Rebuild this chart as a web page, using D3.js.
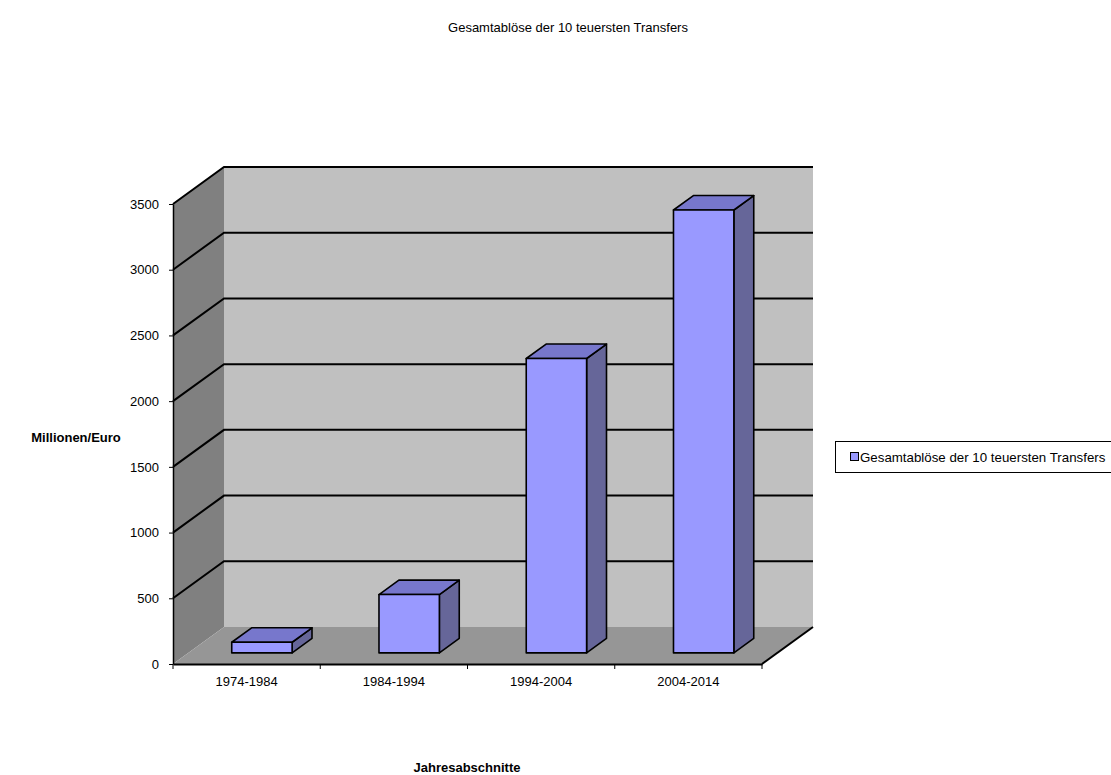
<!DOCTYPE html>
<html>
<head>
<meta charset="utf-8">
<script src="https://cdn.jsdelivr.net/npm/d3@7"></script>
<style>
  html, body { margin: 0; padding: 0; background: #fff; }
  svg { display: block; font-family: "Liberation Sans", Arial, sans-serif; }
</style>
</head>
<body>
<svg id="chart" width="1111" height="775"></svg>
<script>
// Data
const categories = ["1974-1984", "1984-1994", "1994-2004", "2004-2014"];
const values = [81, 444, 2240, 3370];
const yTicks = [0, 500, 1000, 1500, 2000, 2500, 3000, 3500];
const seriesName = "Gesamtablöse der 10 teuersten Transfers";
const chartTitle = "Gesamtablöse der 10 teuersten Transfers";
const xTitle = "Jahresabschnitte";
const yTitle = "Millionen/Euro";

const FONT = "Liberation Sans, Arial, sans-serif";
const FS = 13;

const svg = d3.select("#chart");

// Plot geometry (front plane + oblique depth)
const x0 = 173, x1 = 762, yBottom = 664, yTop = 204;
const DX = 51, DY = 37;           // depth offset of the back wall
const depthStart = 0.3, depthLen = 0.39;  // bar position in depth
const barFrac = 0.41;

const x = d3.scaleBand().domain(categories).range([x0, x1]).padding(0);
const y = d3.scaleLinear().domain([0, 3500]).range([yBottom, yTop]);

const pts = a => a.map(p => p.join(",")).join(" ");

// Walls and floor
svg.append("polygon")
  .attr("points", pts([[x0, yBottom], [x0, yTop], [x0 + DX, yTop - DY], [x0 + DX, yBottom - DY]]))
  .attr("fill", "#808080");
svg.append("rect")
  .attr("x", x0 + DX).attr("y", yTop - DY)
  .attr("width", x1 - x0).attr("height", yBottom - yTop)
  .attr("fill", "#c0c0c0");
svg.append("polygon")
  .attr("points", pts([[x0, yBottom], [x1, yBottom], [x1 + DX, yBottom - DY], [x0 + DX, yBottom - DY]]))
  .attr("fill", "#969696");

// Gridlines on back and side walls
const grid = svg.append("g").attr("stroke", "#000").attr("stroke-width", 2).attr("fill", "none");
yTicks.filter(v => v > 0).forEach(v => {
  const yy = y(v);
  grid.append("polyline")
    .attr("points", pts([[x0, yy], [x0 + DX, yy - DY], [x1 + DX, yy - DY]]));
});

// Floor edge on the right
svg.append("line")
  .attr("x1", x1).attr("y1", yBottom).attr("x2", x1 + DX).attr("y2", yBottom - DY)
  .attr("stroke", "#000").attr("stroke-width", 2);

// Bars (front, top, side faces)
const bars = svg.append("g").attr("stroke", "#000").attr("stroke-width", 1.6).attr("stroke-linejoin", "round");
const offX = depthStart * DX, offY = depthStart * DY;
const dX = depthLen * DX, dY = depthLen * DY;
categories.forEach((c, i) => {
  const bw = x.bandwidth() * barFrac;
  const left = x(c) + (x.bandwidth() - bw) / 2 + offX;
  const right = left + bw;
  const base = yBottom - offY;
  const top = y(values[i]) - offY;
  bars.append("polygon")
    .attr("points", pts([[right, base], [right, top], [right + dX, top - dY], [right + dX, base - dY]]))
    .attr("fill", "#666699");
  bars.append("polygon")
    .attr("points", pts([[left, top], [right, top], [right + dX, top - dY], [left + dX, top - dY]]))
    .attr("fill", "#7777cc");
  bars.append("rect")
    .attr("x", left).attr("y", top)
    .attr("width", bw).attr("height", base - top)
    .attr("fill", "#9999ff");
});

// Y axis
const yAxis = svg.append("g")
  .attr("transform", `translate(${x0},0)`)
  .call(d3.axisLeft(y).tickValues(yTicks).tickFormat(d3.format("d"))
    .tickSize(4).tickSizeOuter(0).tickPadding(10));
yAxis.select(".domain").attr("stroke", "#000").attr("stroke-width", 1.5);
yAxis.selectAll("text").attr("font-size", FS).attr("fill", "#000").attr("font-family", FONT);

// X axis: labels centred, ticks on category boundaries
const xAxis = svg.append("g")
  .attr("transform", `translate(0,${yBottom})`)
  .call(d3.axisBottom(x).tickSize(0).tickPadding(13));
xAxis.select(".domain").attr("stroke", "#000").attr("stroke-width", 2);
xAxis.selectAll("text").attr("font-size", FS).attr("fill", "#000").attr("font-family", FONT);
const bounds = categories.map(c => x(c)).concat([x1]);
xAxis.selectAll(".bound").data(bounds).enter().append("line")
  .attr("class", "bound")
  .attr("x1", d => d).attr("x2", d => d).attr("y1", 0).attr("y2", 5)
  .attr("stroke", "#000").attr("stroke-width", 1);

// Titles
svg.append("text").attr("x", 568).attr("y", 32).attr("text-anchor", "middle")
  .attr("font-size", FS).text(chartTitle);
svg.append("text").attr("x", 76).attr("y", 442).attr("text-anchor", "middle")
  .attr("font-size", FS).attr("font-weight", "bold").text(yTitle);
svg.append("text").attr("x", 467).attr("y", 772).attr("text-anchor", "middle")
  .attr("font-size", FS).attr("font-weight", "bold").text(xTitle);

// Legend
const legend = svg.append("g");
legend.append("rect").attr("x", 835.5).attr("y", 441.5).attr("width", 290).attr("height", 31)
  .attr("fill", "#fff").attr("stroke", "#000").attr("stroke-width", 1);
legend.append("rect").attr("x", 850.5).attr("y", 452.5).attr("width", 8).attr("height", 8)
  .attr("fill", "#9999ff").attr("stroke", "#000").attr("stroke-width", 1);
legend.append("text").attr("x", 860).attr("y", 461.5).attr("font-size", 13.3).text(seriesName);
</script>
</body>
</html>
